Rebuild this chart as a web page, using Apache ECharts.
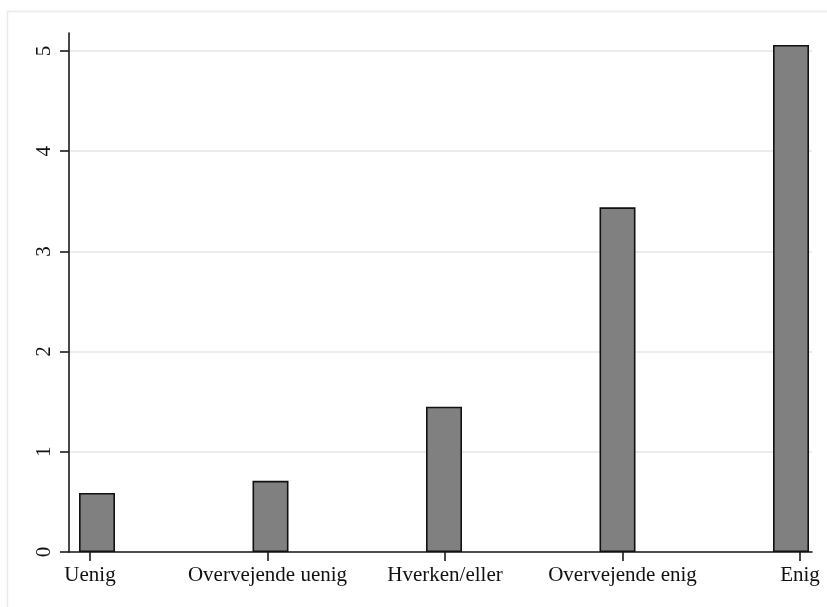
<!DOCTYPE html>
<html>
<head>
<meta charset="utf-8">
<script src="https://cdn.jsdelivr.net/npm/echarts@6/dist/echarts.min.js"></script>
<style>
html,body{margin:0;padding:0;background:#fff;}
#chart{width:827px;height:607px;}
</style>
</head>
<body>
<div id="chart"></div>
<script>
const categories = ['Uenig', 'Overvejende uenig', 'Hverken/eller', 'Overvejende enig', 'Enig'];
const values = [0.59, 0.71, 1.45, 3.44, 5.06];
const yTicks = [0, 1, 2, 3, 4, 5];
const catIndex = categories.map((c, i) => i);

const chart = echarts.init(document.getElementById('chart'));
const FONT = '"Liberation Serif", "Times New Roman", serif';
chart.setOption({
  animation: false,
  backgroundColor: '#ffffff',
  graphic: [{
    type: 'rect',
    shape: { x: 7.5, y: 11.5, width: 830, height: 610 },
    style: { fill: 'none', stroke: '#eaeaea', lineWidth: 1.5 },
    silent: true,
    z: -1
  }],
  grid: { left: 69, top: 33, right: 15, bottom: 55, containLabel: false },
  xAxis: [
    {
      type: 'value',
      min: -0.1614,
      max: 4.121,
      show: false,
      axisLine: { onZero: false },
      splitLine: { show: false }
    },
    {
      type: 'value',
      position: 'bottom',
      min: -0.1183,
      max: 4.0676,
      axisLine: { show: true, onZero: false, lineStyle: { color: '#1a1a1a', width: 1.6 } },
      axisTick: { show: true, customValues: catIndex, length: 9, lineStyle: { color: '#1a1a1a', width: 1.6 } },
      axisLabel: {
        show: true,
        customValues: catIndex,
        formatter: v => categories[Math.round(v)],
        fontFamily: FONT,
        fontSize: 21,
        color: '#111',
        margin: 13
      },
      splitLine: { show: false }
    }
  ],
  yAxis: {
    type: 'value',
    position: 'left',
    min: 0,
    max: 5.18,
    axisLine: { show: true, onZero: false, lineStyle: { color: '#1a1a1a', width: 1.6 } },
    axisTick: { show: true, customValues: yTicks, length: 9, lineStyle: { color: '#1a1a1a', width: 1.6 } },
    axisLabel: {
      show: true,
      customValues: yTicks,
      rotate: 90,
      fontFamily: FONT,
      fontSize: 21,
      color: '#111',
      margin: 14
    },
    splitLine: { show: true, lineStyle: { color: '#e6e6e6', width: 1.5 } }
  },
  series: [{
    type: 'bar',
    xAxisIndex: 0,
    yAxisIndex: 0,
    barWidth: 36,
    data: values.map((v, i) => [catIndex[i], v]),
    itemStyle: { color: '#808080', borderColor: '#111', borderWidth: 1.6 }
  }]
});
</script>
</body>
</html>
